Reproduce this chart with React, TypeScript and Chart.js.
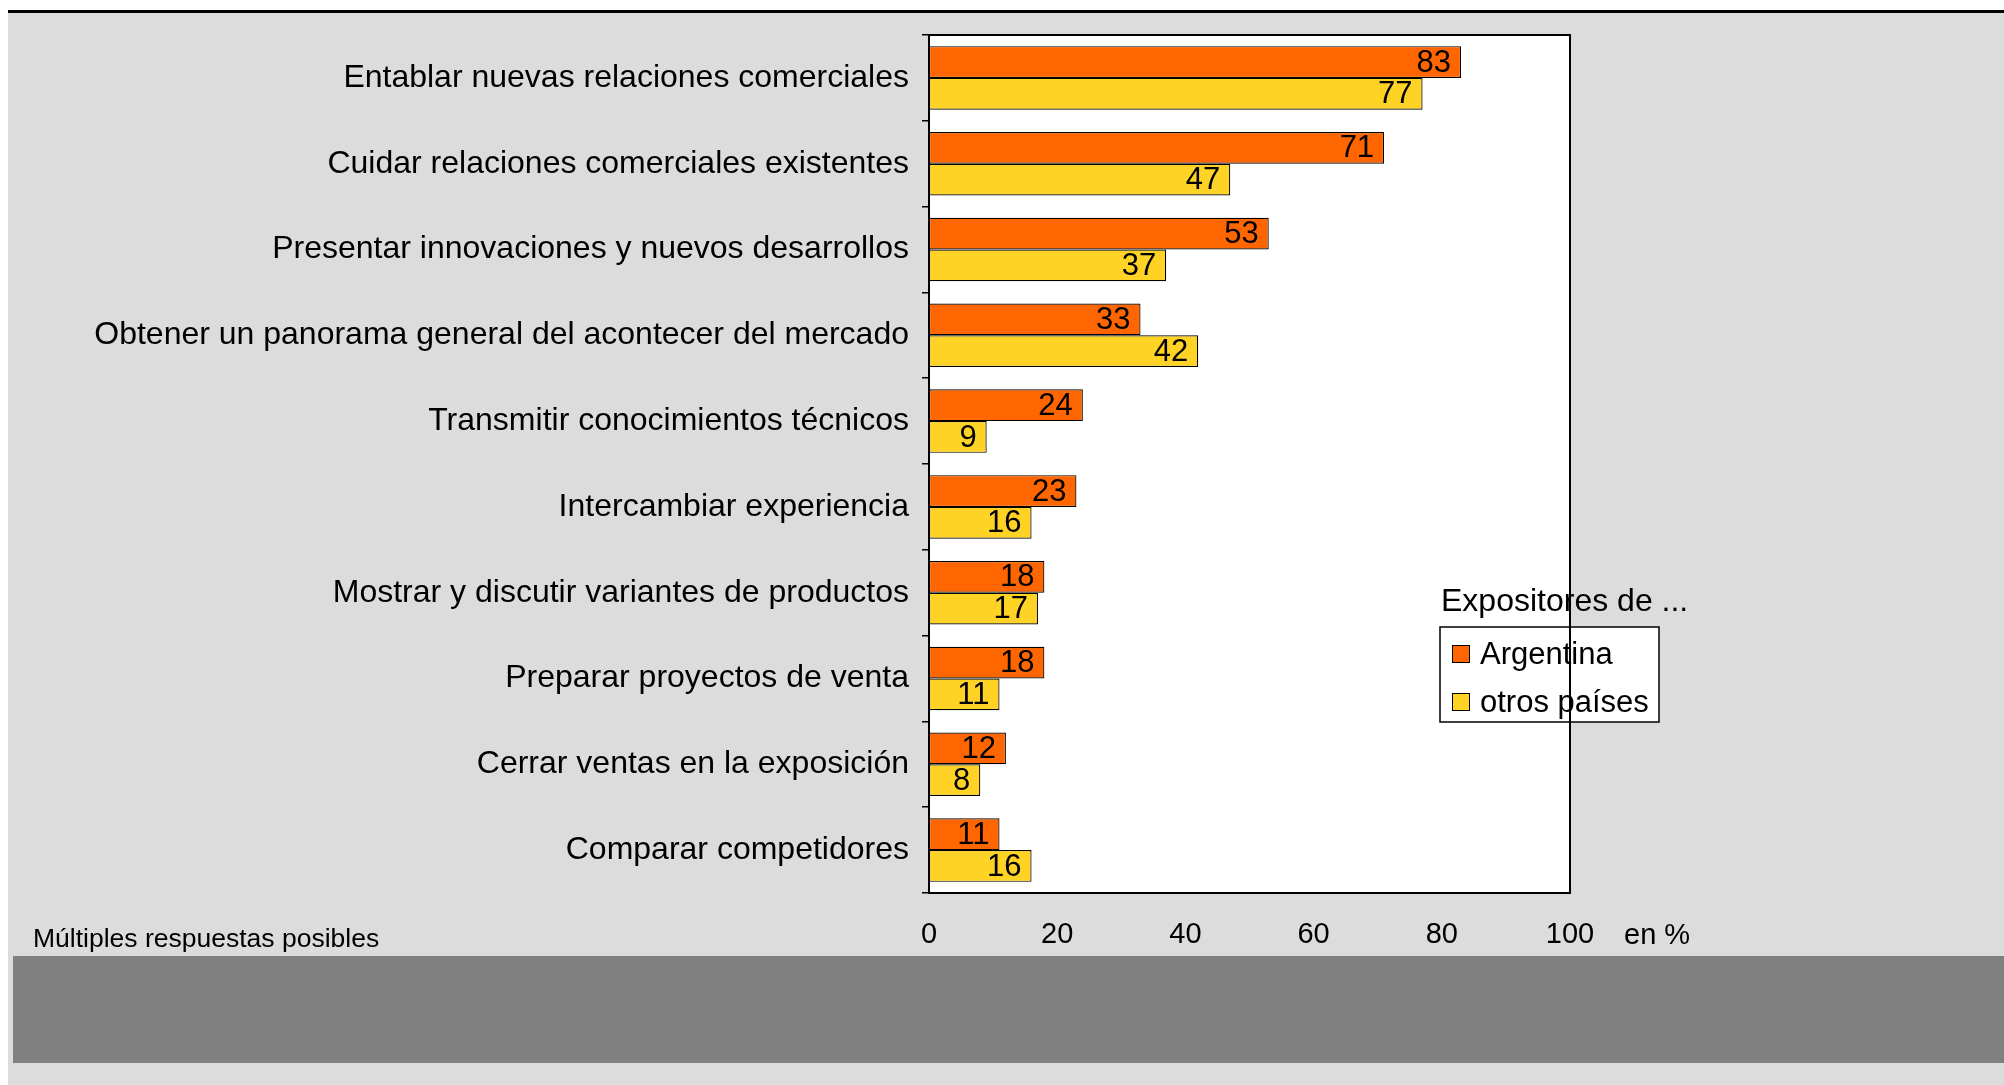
import React, { useEffect, useRef } from 'react';
import { Chart, registerables } from 'chart.js';
Chart.register(...registerables);

const categories = [
  'Entablar nuevas relaciones comerciales',
  'Cuidar relaciones comerciales existentes',
  'Presentar innovaciones y nuevos desarrollos',
  'Obtener un panorama general del acontecer del mercado',
  'Transmitir conocimientos técnicos',
  'Intercambiar experiencia',
  'Mostrar y discutir variantes de productos',
  'Preparar proyectos de venta',
  'Cerrar ventas en la exposición',
  'Comparar competidores',
];
const argentina = [83, 71, 53, 33, 24, 23, 18, 18, 12, 11];
const otrosPaises = [77, 47, 37, 42, 9, 16, 17, 11, 8, 16];
const seriesNames = ['Argentina', 'otros países'];
const seriesColors = ['#FF6600', '#FFD326'];
const xMin = 0;
const xMax = 100;
const xStep = 20;
const legendTitle = 'Expositores de ...';
const unitLabel = 'en %';
const footnote = 'Múltiples respuestas posibles';

const FONT = '"Liberation Sans", Arial, sans-serif';

const decorPlugin = {
  id: 'decor',
  beforeDraw(chart: any) {
    const { ctx, chartArea: a } = chart;
    ctx.save();
    ctx.fillStyle = '#ffffff';
    ctx.fillRect(a.left, a.top, a.right - a.left, a.bottom - a.top);
    ctx.restore();
  },
  afterDatasetsDraw(chart: any) {
    const { ctx } = chart;
    ctx.save();
    ctx.font = `31px ${FONT}`;
    ctx.fillStyle = '#000';
    ctx.textAlign = 'right';
    ctx.textBaseline = 'middle';
    chart.data.datasets.forEach((ds: any, di: number) => {
      const meta = chart.getDatasetMeta(di);
      meta.data.forEach((bar: any, i: number) => {
        ctx.fillText(String(ds.data[i]), bar.x - 10, bar.y + 1);
      });
    });
    ctx.restore();
  },
  afterDraw(chart: any) {
    const { ctx, chartArea: a } = chart;
    ctx.save();
    // footnote
    ctx.fillStyle = '#000';
    ctx.font = `26.5px ${FONT}`;
    ctx.textAlign = 'left';
    ctx.textBaseline = 'middle';
    ctx.fillText(footnote, 33, a.bottom + 47);
    // unit label
    ctx.font = `29px ${FONT}`;
    ctx.fillText(unitLabel, 1624, a.bottom + 43);
    // legend
    ctx.font = `32px ${FONT}`;
    ctx.fillText(legendTitle, 1441, 602);
    const bx = 1440, by = 627, bw = 219, bh = 95;
    ctx.fillStyle = '#fff';
    ctx.fillRect(bx, by, bw, bh);
    ctx.strokeStyle = '#000';
    ctx.lineWidth = 1.5;
    ctx.strokeRect(bx, by, bw, bh);
    ctx.font = `31px ${FONT}`;
    const rowsY = [654, 702];
    seriesNames.forEach((name, i) => {
      ctx.fillStyle = seriesColors[i];
      ctx.fillRect(1452, rowsY[i] - 9, 18, 18);
      ctx.lineWidth = 1;
      ctx.strokeStyle = '#000';
      ctx.strokeRect(1452.5, rowsY[i] - 8.5, 17, 17);
      ctx.fillStyle = '#000';
      ctx.fillText(name, 1480, rowsY[i] + 1);
    });
    // plot frame
    ctx.strokeStyle = '#000';
    ctx.lineWidth = 2;
    ctx.strokeRect(a.left, a.top, a.right - a.left, a.bottom - a.top);
    ctx.restore();
  },
};

export default function App() {
  const ref = useRef<HTMLCanvasElement>(null);
  useEffect(() => {
    document.body.style.margin = '0';
    const chart = new Chart(ref.current as HTMLCanvasElement, {
      type: 'bar',
      data: {
        labels: categories,
        datasets: [
          {
            label: seriesNames[0],
            data: argentina,
            backgroundColor: seriesColors[0],
            borderColor: '#000',
            borderWidth: 1.2,
            borderSkipped: false,
            categoryPercentage: 0.74,
            barPercentage: 1.0,
          },
          {
            label: seriesNames[1],
            data: otrosPaises,
            backgroundColor: seriesColors[1],
            borderColor: '#000',
            borderWidth: 1.2,
            borderSkipped: false,
            categoryPercentage: 0.74,
            barPercentage: 1.0,
          },
        ],
      },
      options: {
        indexAxis: 'y',
        animation: false,
        responsive: false,
        devicePixelRatio: 1,
        layout: { padding: { left: 0, right: 434, top: 35, bottom: 0 } },
        plugins: { legend: { display: false }, tooltip: { enabled: false }, title: { display: false } },
        scales: {
          y: {
            type: 'category',
            position: 'left',
            afterFit(scale: any) { scale.width = 929; },
            grid: { display: true, drawOnChartArea: false, tickLength: 7, color: '#000', lineWidth: 1.5, offset: true },
            border: { display: true, color: '#000', width: 2 },
            ticks: { color: '#000', font: { family: FONT, size: 32 }, padding: 13 },
          },
          x: {
            type: 'linear',
            position: 'bottom',
            min: xMin,
            max: xMax,
            afterFit(scale: any) { scale.height = 192; },
            grid: { display: false, drawTicks: false },
            border: { display: false },
            ticks: { stepSize: xStep, color: '#000', font: { family: FONT, size: 29 }, padding: 25 },
          },
        },
      },
      plugins: [decorPlugin],
    } as any);
    return () => chart.destroy();
  }, []);

  return (
    <div style={{ position: 'fixed', left: 0, top: 0, width: 2004, height: 1085, background: '#fff', overflow: 'hidden' }}>
      <div style={{ position: 'absolute', left: 8, top: 10, width: 1996, height: 1075, background: '#dcdcdc' }} />
      <div style={{ position: 'absolute', left: 8, top: 10, width: 1996, height: 3, background: '#000' }} />
      <div style={{ position: 'absolute', left: 13, top: 956, width: 1991, height: 107, background: '#808080' }} />
      <canvas ref={ref} width={2004} height={1085} style={{ position: 'absolute', left: 0, top: 0, width: 2004, height: 1085 }} />
    </div>
  );
}
